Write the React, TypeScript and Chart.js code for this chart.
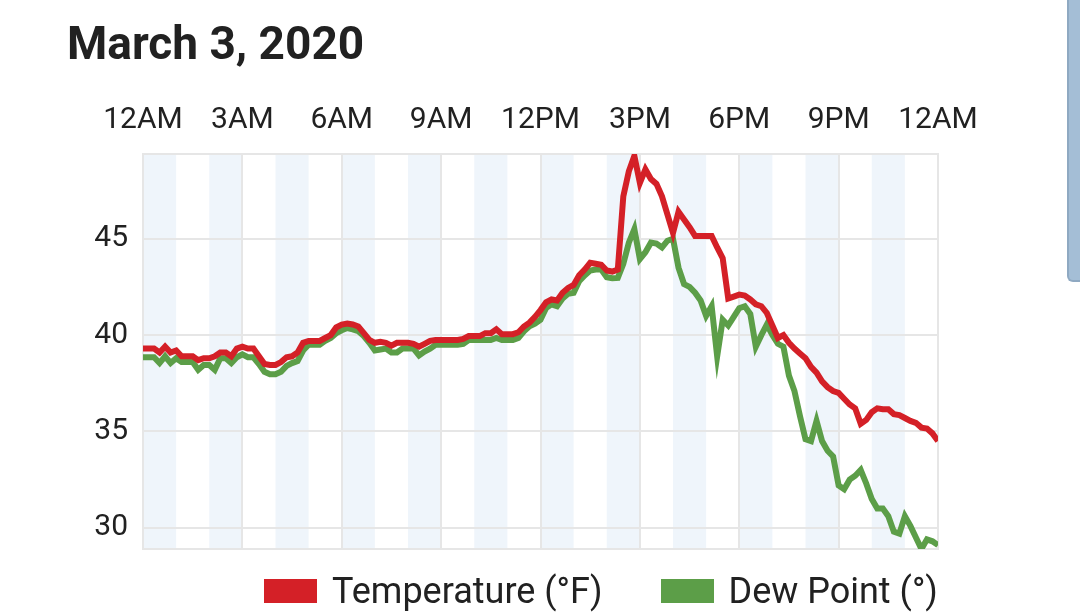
import { useEffect, useRef } from 'react';
import { Chart, registerables } from 'chart.js';

Chart.register(...registerables);

// samples every 10 minutes, 12AM -> 12AM
const sampleHours = Array.from({ length: 145 }, (_, i) => i / 6);

const temperature = [
  39.3, 39.3, 39.3, 39.1, 39.4, 39.1,
  39.2, 38.9, 38.9, 38.9, 38.7, 38.8,
  38.8, 38.9, 39.1, 39.1, 38.9, 39.3,
  39.4, 39.3, 39.3, 38.9, 38.5, 38.45,
  38.45, 38.6, 38.85, 38.9, 39.1, 39.6,
  39.7, 39.7, 39.7, 39.85, 40.0, 40.4,
  40.55, 40.6, 40.55, 40.45, 40.1, 39.75,
  39.6, 39.65, 39.6, 39.45, 39.6, 39.6,
  39.6, 39.55, 39.4, 39.55, 39.7, 39.75,
  39.75, 39.75, 39.75, 39.75, 39.8, 39.95,
  39.95, 39.95, 40.1, 40.1, 40.3, 40.05,
  40.05, 40.05, 40.15, 40.45, 40.65, 40.95,
  41.3, 41.7, 41.85, 41.8, 42.2, 42.45,
  42.6, 43.1, 43.4, 43.75, 43.7, 43.65,
  43.35, 43.3, 43.4, 47.2, 48.5, 49.3,
  47.9, 48.6, 48.1, 47.85, 47.2, 46.25,
  45.3, 46.4, 46.0, 45.6, 45.15, 45.15,
  45.15, 45.15, 44.55, 44.0, 41.9, 42.0,
  42.1, 42.05, 41.85, 41.6, 41.5, 41.15,
  40.5, 39.85, 40.0, 39.6, 39.3, 39.05,
  38.8, 38.35, 38.05, 37.6, 37.3, 37.1,
  37.0, 36.7, 36.4, 36.2, 35.4, 35.6,
  36.0, 36.2, 36.15, 36.15, 35.9, 35.85,
  35.7, 35.55, 35.45, 35.2, 35.15, 34.9,
  34.5,
];

const dewPoint = [
  38.85, 38.85, 38.85, 38.55, 38.9, 38.55,
  38.8, 38.6, 38.6, 38.6, 38.2, 38.45,
  38.45, 38.2, 38.8, 38.8, 38.55, 38.85,
  39.0, 38.85, 38.85, 38.5, 38.1, 37.97,
  37.97, 38.1, 38.4, 38.55, 38.65, 39.2,
  39.5, 39.5, 39.5, 39.7, 39.85, 40.1,
  40.25, 40.37, 40.3, 40.2, 39.95, 39.6,
  39.2, 39.25, 39.3, 39.1, 39.1, 39.3,
  39.3, 39.3, 38.95, 39.15, 39.3, 39.5,
  39.5, 39.5, 39.5, 39.5, 39.55, 39.75,
  39.75, 39.75, 39.75, 39.75, 39.85, 39.75,
  39.75, 39.75, 39.85, 40.2, 40.46, 40.6,
  40.8, 41.4, 41.6, 41.5, 41.9, 42.15,
  42.2, 42.8, 43.1, 43.35, 43.4, 43.4,
  43.0, 42.95, 42.97, 43.7, 44.8, 45.5,
  43.95, 44.3, 44.8, 44.75, 44.55, 44.9,
  45.0, 43.5, 42.65, 42.5, 42.2, 41.8,
  41.0, 41.5, 38.9, 40.8, 40.5, 40.95,
  41.4, 41.5, 41.1, 39.4, 40.0, 40.55,
  40.0, 39.55, 39.4, 37.9, 37.1, 35.8,
  34.6, 34.5, 35.55, 34.5, 34.0, 33.7,
  32.2, 32.0, 32.5, 32.7, 33.0, 32.3,
  31.5, 31.0, 31.0, 30.6, 29.8, 29.7,
  30.6, 30.1, 29.5, 28.9, 29.4, 29.3,
  29.1,
];

const tickLabels = ['12AM', '3AM', '6AM', '9AM', '12PM', '3PM', '6PM', '9PM', '12AM'];
// shaded hour bands (every other hour)
const bandStartHours = [0, 2, 4, 6, 8, 10, 12, 14, 16, 18, 20, 22];

const series = [
  { label: 'Temperature (°F)', color: '#d42027', values: temperature },
  { label: 'Dew Point (°)', color: '#5c9e48', values: dewPoint },
];

const GRID = '#e6e6e6';
const TEXT = '#212121';
const FONT = 'Roboto';

const hourBands = {
  id: 'hourBands',
  beforeDraw(chart: any) {
    const { ctx, chartArea, scales } = chart;
    ctx.save();
    ctx.fillStyle = '#eff5fb';
    bandStartHours.forEach((h) => {
      const x0 = scales.x.getPixelForValue(h);
      const x1 = scales.x.getPixelForValue(h + 1);
      ctx.fillRect(x0, chartArea.top, x1 - x0, chartArea.bottom - chartArea.top);
    });
    ctx.restore();
  },
  beforeDatasetsDraw(chart: any) {
    const { ctx, chartArea } = chart;
    ctx.save();
    ctx.strokeStyle = GRID;
    ctx.lineWidth = 2;
    ctx.beginPath();
    ctx.moveTo(chartArea.left, chartArea.bottom);
    ctx.lineTo(chartArea.right, chartArea.bottom);
    ctx.lineTo(chartArea.right, chartArea.top);
    ctx.stroke();
    ctx.restore();
  },
};

function WeatherChart() {
  const canvasRef = useRef<HTMLCanvasElement>(null);
  const chartRef = useRef<Chart | null>(null);

  useEffect(() => {
    if (!canvasRef.current) return;
    chartRef.current?.destroy();

    chartRef.current = new Chart(canvasRef.current, {
      type: 'line',
      data: {
        datasets: series.map((s) => ({
          label: s.label,
          data: s.values.map((v, i) => ({ x: sampleHours[i], y: v })),
          borderColor: s.color,
          backgroundColor: s.color,
          borderWidth: 6,
          pointRadius: 0,
          tension: 0,
          fill: false,
        })),
      },
      options: {
        animation: false,
        responsive: true,
        maintainAspectRatio: false,
        layout: { padding: { left: 67, right: 142, top: 0, bottom: 0 } },
        plugins: {
          legend: { display: false },
          tooltip: { enabled: false },
          title: {
            display: true,
            text: 'March 3, 2020',
            align: 'start',
            color: TEXT,
            font: { family: FONT, size: 46, weight: 'bold' },
            padding: { top: 20, bottom: 0 },
          },
        },
        scales: {
          x: {
            type: 'linear',
            position: 'top',
            min: 0,
            max: 24,
            afterFit: (scale: any) => {
              scale.height = 78.8;
            },
            ticks: {
              stepSize: 3,
              autoSkip: false,
              maxRotation: 0,
              padding: 16,
              color: TEXT,
              font: { family: FONT, size: 30 },
              callback: (value: any) => tickLabels[Math.round(Number(value) / 3)],
            },
            grid: { color: GRID, lineWidth: 2, drawTicks: false },
            border: { display: true, color: GRID, width: 2 },
          },
          y: {
            min: 28.9,
            max: 49.4,
            afterFit: (scale: any) => {
              scale.width = 76;
            },
            ticks: {
              stepSize: 5,
              includeBounds: false,
              padding: 15,
              color: TEXT,
              font: { family: FONT, size: 30 },
            },
            grid: { color: GRID, lineWidth: 2, drawTicks: false },
            border: { display: true, color: GRID, width: 2 },
          },
        },
      },
      plugins: [hourBands],
    });

    return () => {
      chartRef.current?.destroy();
      chartRef.current = null;
    };
  }, []);

  return <canvas ref={canvasRef}></canvas>;
}

export default function App() {
  return (
    <div
      style={{
        position: 'fixed',
        left: 0,
        top: 0,
        width: 1080,
        height: 613,
        background: '#fff',
        overflow: 'hidden',
      }}
    >
      <div style={{ position: 'absolute', left: 0, top: 0, width: 1080, height: 582 }}>
        <WeatherChart />
      </div>
      <div
        style={{
          position: 'absolute',
          left: 264,
          top: 573,
          display: 'flex',
          alignItems: 'center',
          fontFamily: FONT,
          fontSize: 36,
          lineHeight: '36px',
          color: TEXT,
          whiteSpace: 'nowrap',
        }}
      >
        {series.map((s, i) => (
          <div
            key={s.label}
            style={{ display: 'flex', alignItems: 'center', marginRight: i === 0 ? 58 : 0 }}
          >
            <span style={{ width: 53, height: 24, background: s.color, marginRight: 15 }} />
            <span>{s.label}</span>
          </div>
        ))}
      </div>
      <div
        style={{
          position: 'absolute',
          left: 1067,
          top: 0,
          width: 13,
          height: 280,
          background: '#a4bed6',
          borderLeft: '2px solid #8fa9c2',
          borderBottom: '2px solid #8fa9c2',
          borderBottomLeftRadius: 6,
        }}
      />
    </div>
  );
}
